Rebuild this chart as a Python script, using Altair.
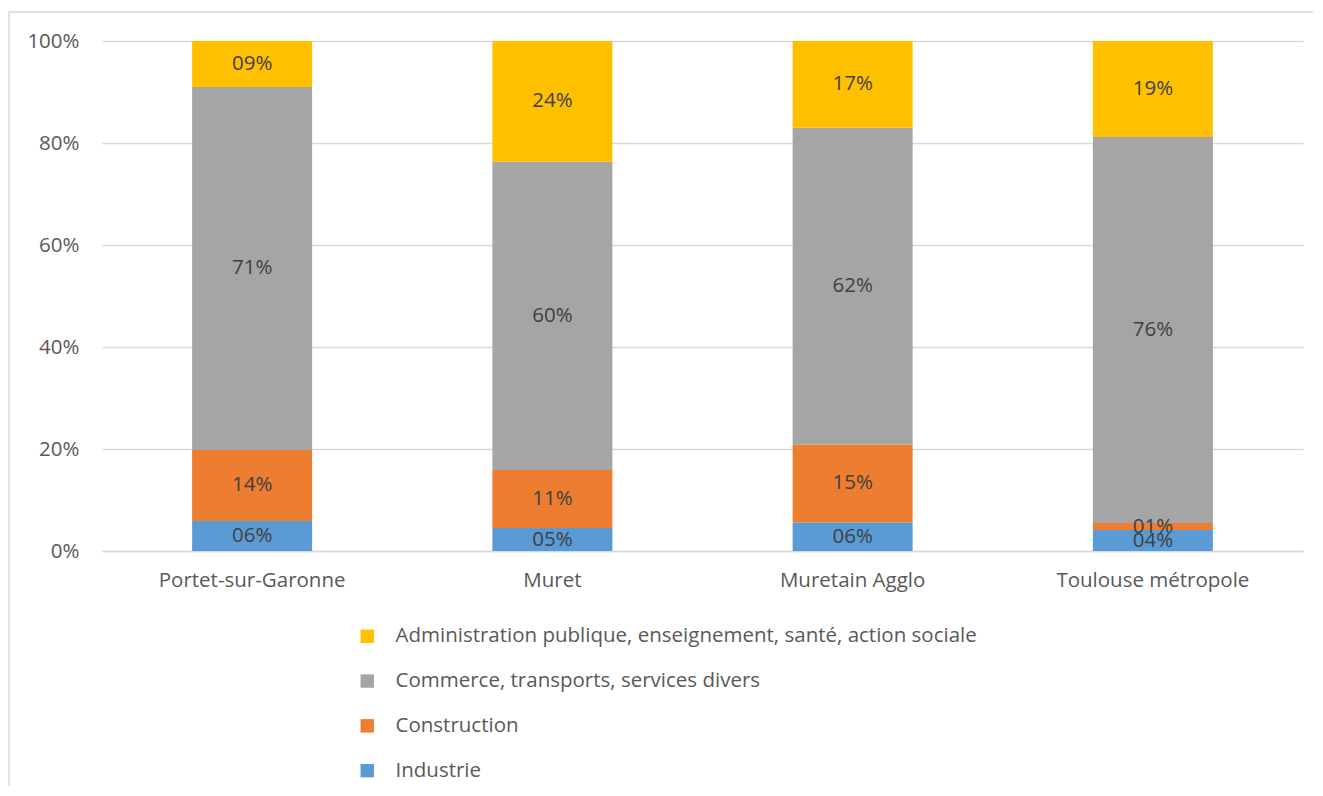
import altair as alt
import pandas as pd

categories = ["Portet-sur-Garonne", "Muret", "Muretain Agglo", "Toulouse métropole"]
series = [
    "Administration publique, enseignement, santé, action sociale",
    "Commerce, transports, services divers",
    "Construction",
    "Industrie",
]
industrie = [0.059, 0.045, 0.056, 0.041]
construction = [0.139, 0.114, 0.153, 0.014]
commerce = [0.712, 0.604, 0.621, 0.757]
administration = [0.090, 0.237, 0.170, 0.188]
colors = ["#FFC000", "#A5A5A5", "#ED7D31", "#5B9BD5"]

rows = []
for i, c in enumerate(categories):
    for s, vals, o in [
        (series[3], industrie, 0),
        (series[2], construction, 1),
        (series[1], commerce, 2),
        (series[0], administration, 3),
    ]:
        rows.append({"cat": c, "serie": s, "val": vals[i], "ord": o})
df = pd.DataFrame(rows)

FONT = "Open Sans"
FS = 20.5

base = alt.Chart(df).transform_stack(
    stack="val", groupby=["cat"], as_=["v0", "v1"], sort=[alt.SortField("ord", order="ascending")]
).transform_calculate(mid="(datum.v0 + datum.v1) / 2")

xscale = alt.Scale(paddingInner=0, paddingOuter=0)

bars = base.mark_bar(size=120).encode(
    x=alt.X("cat:N", sort=categories, title=None, scale=xscale,
            axis=alt.Axis(labelAngle=0, labelFontSize=FS, labelColor="#595959", labelFont=FONT,
                          domainColor="#D9D9D9", domainWidth=1.5, ticks=False, labelPadding=19,
                          labelLimit=400)),
    y=alt.Y("v0:Q", title=None, scale=alt.Scale(domain=[0, 1], nice=False),
            axis=alt.Axis(format=".0%", values=[0, 0.2, 0.4, 0.6, 0.8, 1.0], labelFontSize=FS,
                          labelColor="#595959", labelFont=FONT, domain=False, ticks=False,
                          labelPadding=23, gridColor="#D9D9D9", gridWidth=1.5)),
    y2="v1:Q",
    color=alt.Color("serie:N", scale=alt.Scale(domain=series, range=colors),
                    legend=alt.Legend(title=None, orient="none", legendX=255, legendY=585,
                                      direction="vertical", symbolType="square", symbolSize=180,
                                      symbolStrokeWidth=0, labelFontSize=FS, labelFont=FONT,
                                      labelColor="#595959", rowPadding=23.8, labelOffset=18,
                                      labelLimit=900)),
)

labels = base.mark_text(fontSize=FS, color="#404040", font=FONT).encode(
    x=alt.X("cat:N", sort=categories, scale=xscale),
    y=alt.Y("mid:Q"),
    text=alt.Text("val:Q", format="03.0%"),
)

border = alt.Chart(pd.DataFrame({"a": [0]})).mark_rect(
    fill=None, stroke="#D9D9D9", strokeWidth=1.5, clip=False
).encode(x=alt.value(-93), x2=alt.value(1240), y=alt.value(-29), y2=alt.value(780))

chart = alt.layer(border, bars, labels).properties(
    width=1201, height=510, padding={"left": 94, "top": 33, "right": 10, "bottom": 235},
    autosize=alt.AutoSizeParams(type="none"),
).configure_view(stroke=None)

chart.save("out.html", embed_options={"renderer": "svg", "actions": False})
